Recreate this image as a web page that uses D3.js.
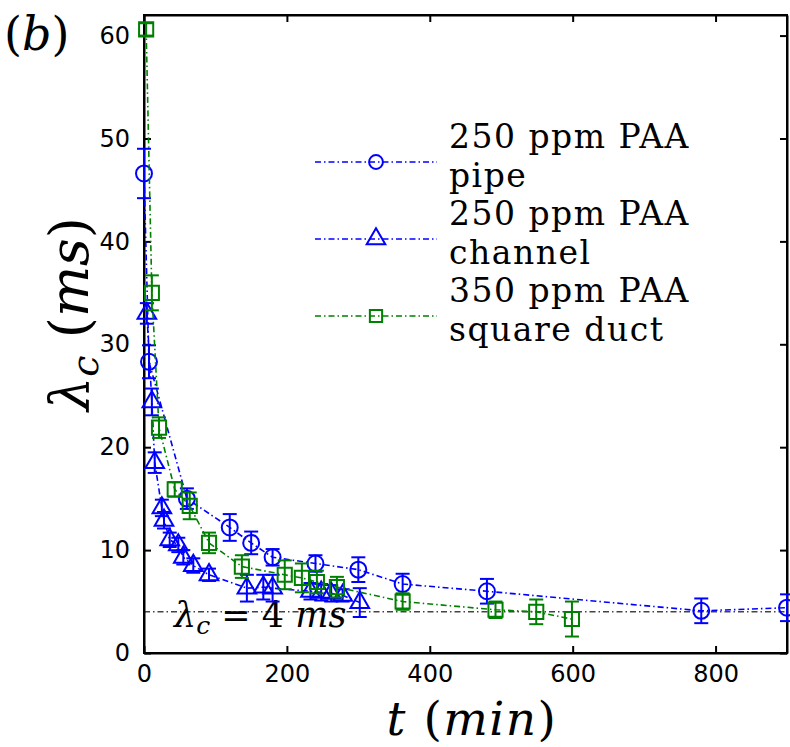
<!DOCTYPE html>
<html>
<head>
<meta charset="utf-8">
<script src="https://cdn.jsdelivr.net/npm/d3@7"></script>
<style>
  body { margin: 0; background: #fff; }
  svg text { fill: #000; }
</style>
</head>
<body>
<div id="chart"></div>
<script>
// pipe, 250 ppm PAA
const pipeT   = [0, 7, 60, 120, 150, 180, 240, 300, 362, 480, 780, 900]
const pipeL   = [46.6, 28.3, 15.0, 12.2, 10.7, 9.3, 8.7, 8.1, 6.7, 6.0, 4.1, 4.4]
const pipeErr = [2.4, 1.6, 1.0, 1.3, 1.1, 0.8, 0.8, 1.2, 1.0, 1.2, 1.2, 1.3]

// channel, 250 ppm PAA
const chanT   = [4, 11, 15, 25, 28, 36, 48, 55, 69, 91, 144, 167, 180, 233, 248, 262, 278, 302]
const chanL   = [33.0, 24.4, 18.5, 14.1, 12.9, 11.0, 10.5, 9.3, 8.5, 7.6, 6.3, 6.4, 6.3, 6.0, 5.9, 5.8, 5.6, 4.9]
const chanErr = [1.0, 1.3, 1.0, 0.8, 0.8, 0.7, 0.7, 0.7, 0.7, 0.6, 1.3, 1.2, 1.3, 0.8, 0.8, 0.8, 0.6, 1.4]

// square duct, 350 ppm PAA
const ductT   = [3, 11, 21, 43, 64, 91, 137, 197, 221, 242, 270, 362, 492, 549, 599]
const ductL   = [60.6, 35.0, 21.9, 15.9, 14.3, 10.7, 8.4, 7.6, 7.3, 6.9, 6.4, 5.0, 4.2, 4.0, 3.3]
const ductErr = [0.6, 1.7, 1.0, 0.7, 1.3, 1.0, 1.1, 1.4, 1.4, 1.1, 1.0, 0.8, 0.8, 1.2, 1.7]

const xTicks = [0, 200, 400, 600, 800]
const yTicks = [0, 10, 20, 30, 40, 50, 60]
const lambdaCrit = 4

const width = 790, height = 747
const svg = d3.select("#chart").append("svg")
    .attr("width", width)
    .attr("height", height)

const x = d3.scaleLinear().domain([0, 900]).range([144, 787])
const y = d3.scaleLinear().domain([0, 62]).range([653, 15])

const blue = "#0000ff", green = "#008000"
const dashDot = "6,3,1.5,3"
const tickFont = "DejaVu Sans, Liberation Sans, sans-serif"
const serif = "DejaVu Serif, Liberation Serif, serif"

// critical line
svg.append("line")
    .attr("x1", x(0)).attr("x2", x(900))
    .attr("y1", y(lambdaCrit)).attr("y2", y(lambdaCrit))
    .attr("stroke", "#444").attr("stroke-width", 1.5)
    .attr("stroke-dasharray", dashDot)

const critText = svg.append("text")
    .attr("x", 174).attr("y", 627)
    .attr("font-family", serif).attr("font-size", 35)
critText.append("tspan").attr("font-style", "italic").text("λ")
critText.append("tspan").attr("font-style", "italic").attr("font-size", 25).attr("dy", 7).text("c")
critText.append("tspan").attr("dy", -7).text(" = 4 ")
critText.append("tspan").attr("font-style", "italic").text("ms")

// axes with inward ticks, on all four sides
const tickLen = 7
svg.append("g")
    .attr("transform", `translate(0,${y(0)})`)
    .call(d3.axisBottom(x).tickValues(xTicks).tickSizeInner(-tickLen).tickSizeOuter(0).tickPadding(12))
svg.append("g")
    .attr("transform", `translate(0,${y(62)})`)
    .call(d3.axisTop(x).tickValues(xTicks).tickSizeInner(-tickLen).tickSizeOuter(0).tickFormat(""))
svg.append("g")
    .attr("transform", `translate(${x(0)},0)`)
    .call(d3.axisLeft(y).tickValues(yTicks).tickSizeInner(-tickLen).tickSizeOuter(0).tickPadding(14))
svg.append("g")
    .attr("transform", `translate(${x(900)},0)`)
    .call(d3.axisRight(y).tickValues(yTicks).tickSizeInner(-tickLen).tickSizeOuter(0).tickFormat(""))

svg.selectAll(".domain").attr("stroke", "#000").attr("stroke-width", 2)
svg.selectAll(".tick line").attr("stroke", "#000").attr("stroke-width", 2)
svg.selectAll(".tick text")
    .attr("font-family", tickFont)
    .attr("font-size", 24)
    .attr("fill", "#000")

svg.append("rect")
    .attr("x", x(0)).attr("y", y(62))
    .attr("width", x(900) - x(0)).attr("height", y(0) - y(62))
    .attr("fill", "none").attr("stroke", "#000").attr("stroke-width", 2)

// marker shapes
const circleSym = d3.symbol().type(d3.symbolCircle).size(200)
const triSym = d3.symbol().type(d3.symbolTriangle).size(150)
const sqSym = d3.symbol().type(d3.symbolSquare).size(200)

function drawSeries(ts, ls, errs, color, sym) {
    const pts = ts.map((t, i) => ({ t: t, l: ls[i], e: errs[i] }))
    const line = d3.line().x(d => x(d.t)).y(d => y(d.l))
    svg.append("path")
        .datum(pts)
        .attr("d", line)
        .attr("fill", "none")
        .attr("stroke", color)
        .attr("stroke-width", 1.6)
        .attr("stroke-dasharray", dashDot)

    const g = svg.append("g")
    const eb = g.selectAll(".eb").data(pts).enter().append("g")
    eb.append("line")
        .attr("x1", d => x(d.t)).attr("x2", d => x(d.t))
        .attr("y1", d => y(d.l - d.e)).attr("y2", d => y(d.l + d.e))
    eb.append("line")
        .attr("x1", d => x(d.t) - 7).attr("x2", d => x(d.t) + 7)
        .attr("y1", d => y(d.l + d.e)).attr("y2", d => y(d.l + d.e))
    eb.append("line")
        .attr("x1", d => x(d.t) - 7).attr("x2", d => x(d.t) + 7)
        .attr("y1", d => y(d.l - d.e)).attr("y2", d => y(d.l - d.e))
    eb.selectAll("line").attr("stroke", color).attr("stroke-width", 2)

    g.selectAll(".mk").data(pts).enter().append("path")
        .attr("d", sym)
        .attr("transform", d => `translate(${x(d.t)},${y(d.l)})`)
        .attr("fill", "none")
        .attr("stroke", color)
        .attr("stroke-width", 2)
}

drawSeries(pipeT, pipeL, pipeErr, blue, circleSym)
drawSeries(chanT, chanL, chanErr, blue, triSym)
drawSeries(ductT, ductL, ductErr, green, sqSym)

// legend, two-line entries
const legendItems = [
    { lines: ["250 ppm PAA", "pipe"], color: blue, sym: circleSym },
    { lines: ["250 ppm PAA", "channel"], color: blue, sym: triSym },
    { lines: ["350 ppm PAA", "square duct"], color: green, sym: sqSym }
]
legendItems.forEach((it, i) => {
    const ly = 162 + i * 77
    svg.append("line")
        .attr("x1", 315).attr("x2", 437)
        .attr("y1", ly).attr("y2", ly)
        .attr("stroke", it.color).attr("stroke-width", 1.6)
        .attr("stroke-dasharray", dashDot)
    svg.append("path")
        .attr("d", it.sym.size(150)())
        .attr("transform", `translate(376,${ly})`)
        .attr("fill", "none").attr("stroke", it.color).attr("stroke-width", 2)
    it.lines.forEach((s, j) => {
        svg.append("text")
            .attr("x", 449).attr("y", ly - 14 + j * 38.5)
            .attr("font-family", serif).attr("font-size", 33)
            .attr("letter-spacing", 1.5)
            .text(s)
    })
})

// axis labels
const xl = svg.append("text")
    .attr("x", 472).attr("y", 735)
    .attr("text-anchor", "middle")
    .attr("font-family", serif).attr("font-size", 47)
    .attr("letter-spacing", 1.5)
xl.append("tspan").attr("font-style", "italic").text("t")
xl.append("tspan").text(" (")
xl.append("tspan").attr("font-style", "italic").text("min")
xl.append("tspan").text(")")

const yl = svg.append("text")
    .attr("transform", "translate(88,314) rotate(-90)")
    .attr("text-anchor", "middle")
    .attr("font-family", serif).attr("font-size", 54)
yl.append("tspan").attr("font-style", "italic").text("λ")
yl.append("tspan").attr("font-style", "italic").attr("font-size", 38).attr("dy", 10).text("c")
yl.append("tspan").attr("dy", -10).text(" (")
yl.append("tspan").attr("font-style", "italic").text("ms")
yl.append("tspan").text(")")

const pl = svg.append("text")
    .attr("x", 4).attr("y", 50)
    .attr("font-family", serif).attr("font-size", 46)
pl.append("tspan").text("(")
pl.append("tspan").attr("font-style", "italic").text("b")
pl.append("tspan").text(")")
</script>
</body>
</html>
